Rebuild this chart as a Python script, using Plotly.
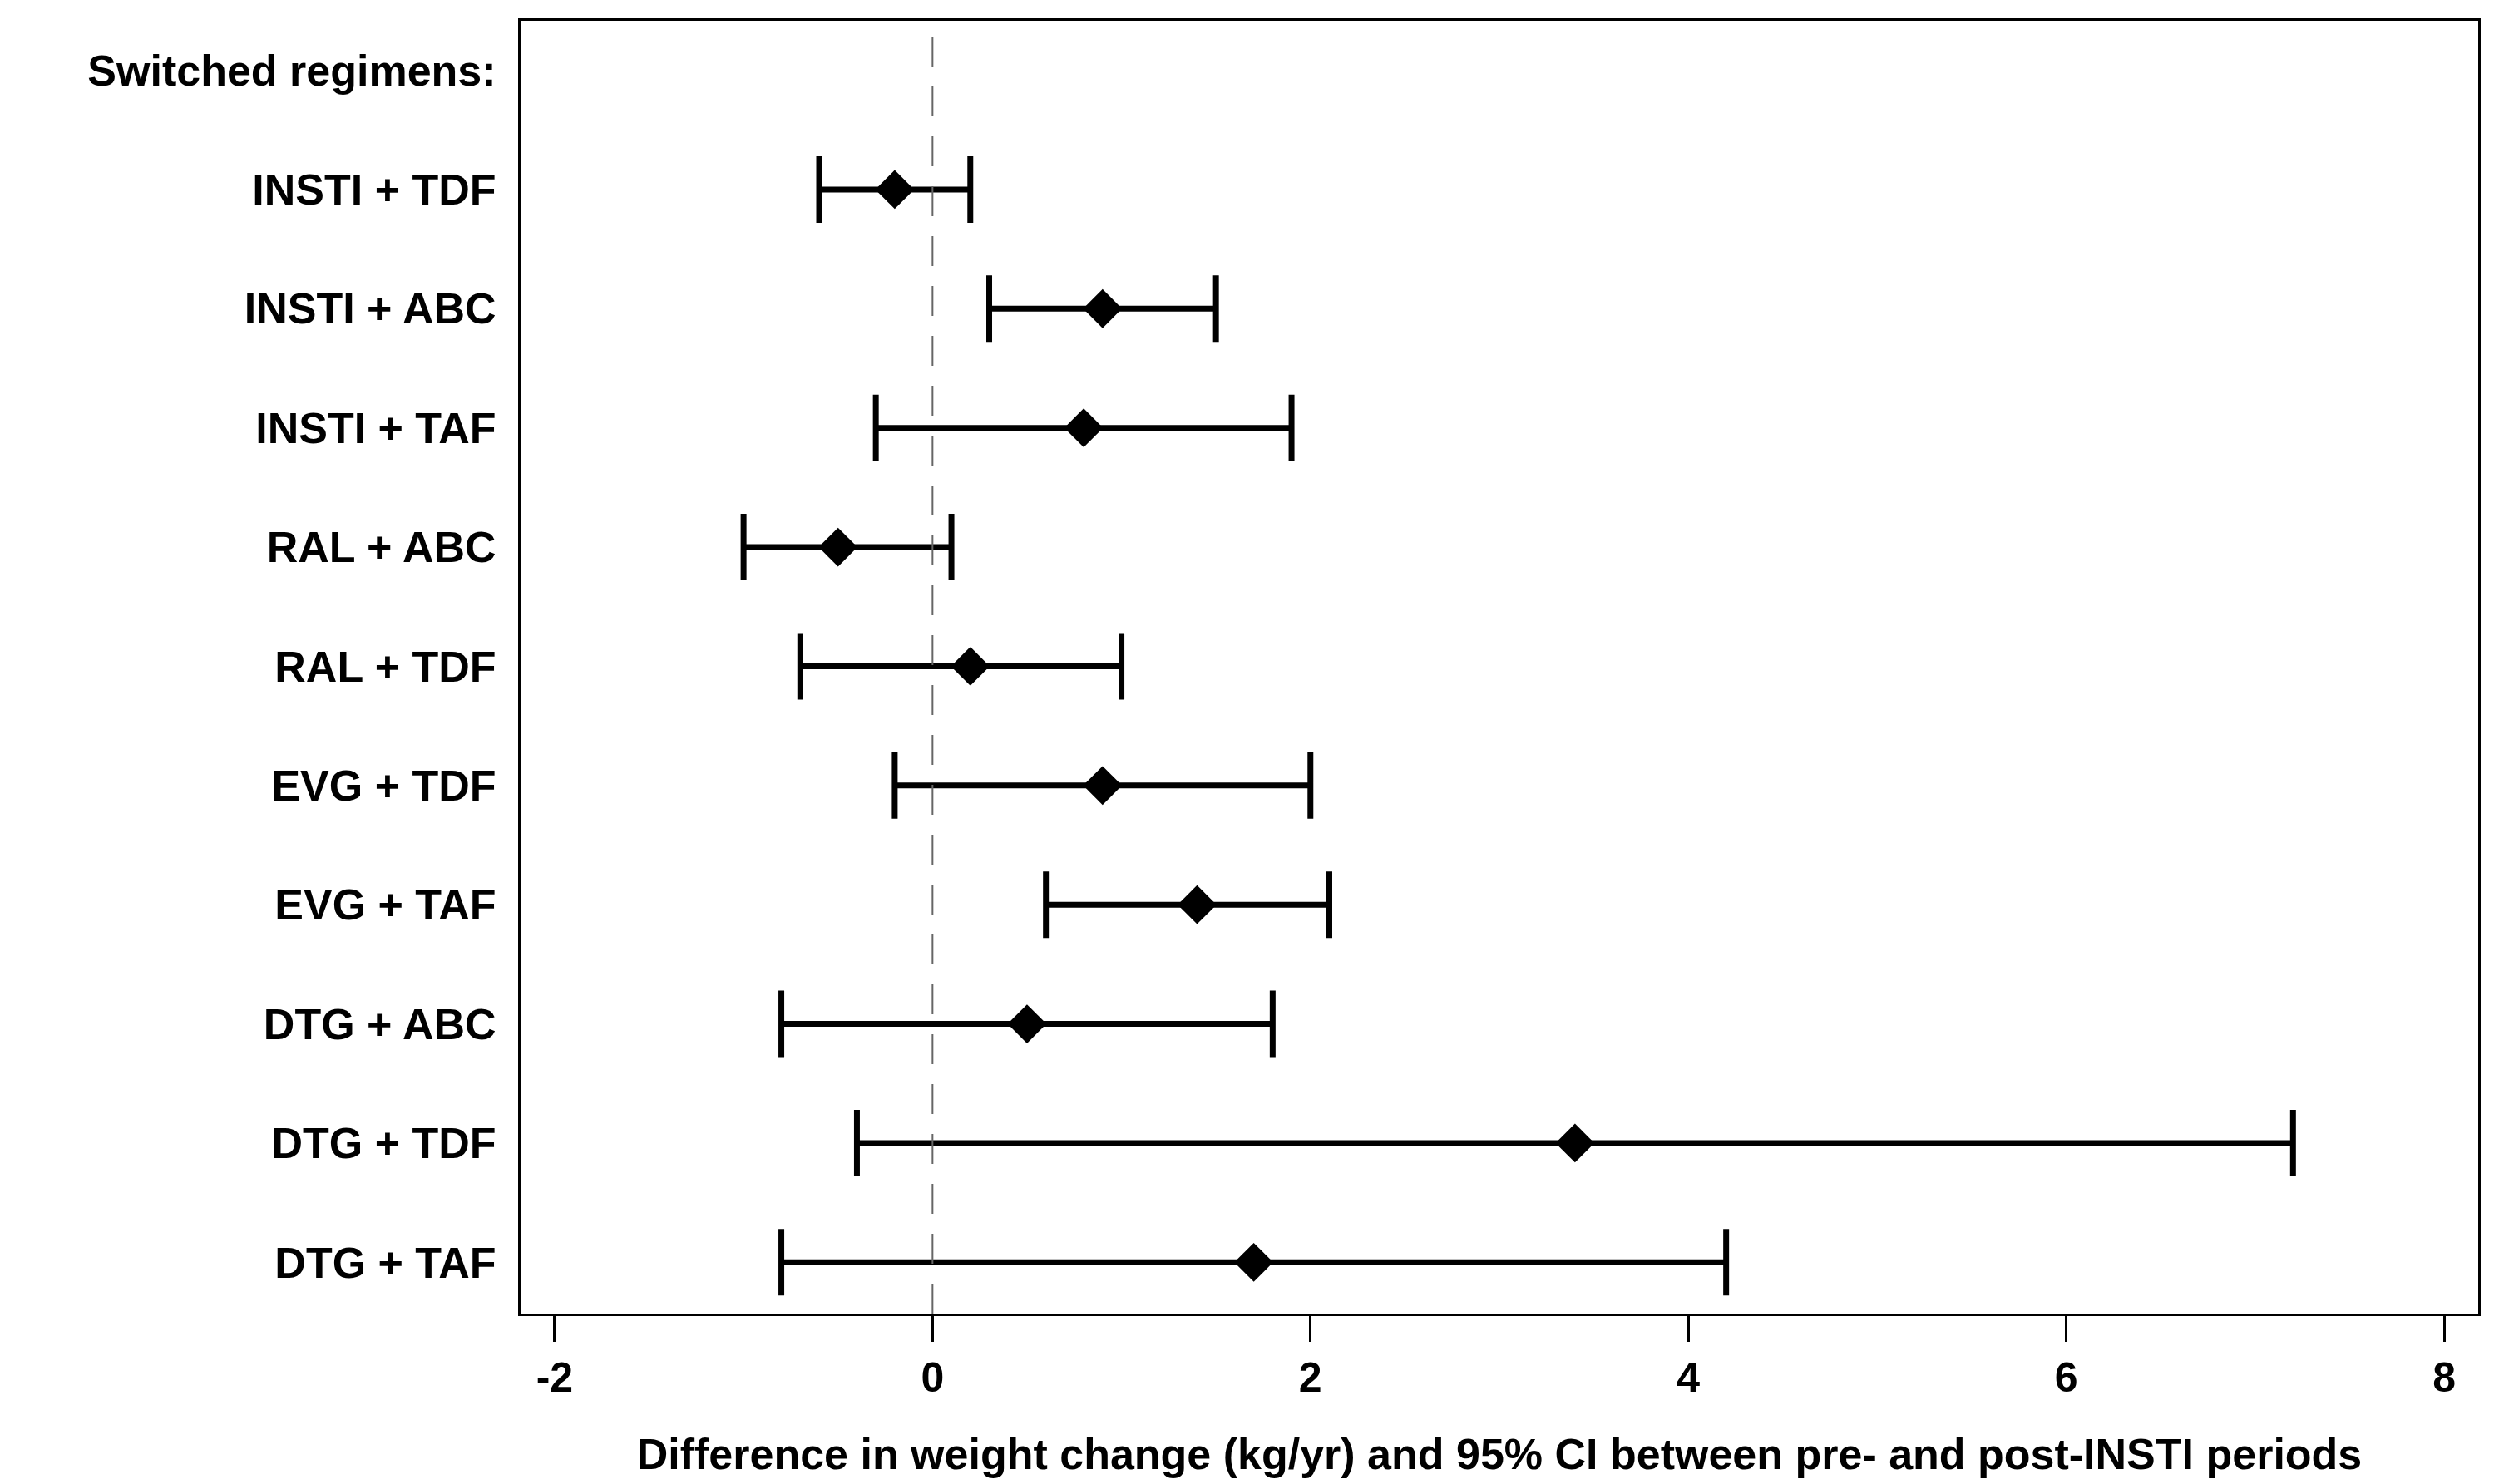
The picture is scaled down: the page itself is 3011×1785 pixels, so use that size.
import plotly.graph_objects as go

# Data
header = "Switched regimens:"
regimens = ["INSTI + TDF", "INSTI + ABC", "INSTI + TAF", "RAL + ABC", "RAL + TDF",
            "EVG + TDF", "EVG + TAF", "DTG + ABC", "DTG + TDF", "DTG + TAF"]
estimate = [-0.2, 0.9, 0.8, -0.5, 0.2, 0.9, 1.4, 0.5, 3.4, 1.7]
ci_low = [-0.6, 0.3, -0.3, -1.0, -0.7, -0.2, 0.6, -0.8, -0.4, -0.8]
ci_high = [0.2, 1.5, 1.9, 0.1, 1.0, 2.0, 2.1, 1.8, 7.2, 4.2]
x_ticks = [-2, 0, 2, 4, 6, 8]
x_title = "Difference in weight change (kg/yr) and 95% CI between pre- and post-INSTI periods"

FONT = "Liberation Sans, Arial, Helvetica, sans-serif"

err_plus = [h - e for h, e in zip(ci_high, estimate)]
err_minus = [e - l for e, l in zip(estimate, ci_low)]

categories = [header] + regimens

fig = go.Figure()
fig.add_trace(go.Scatter(
    x=estimate, y=regimens, mode="markers",
    marker=dict(symbol="diamond", size=36, color="black", line=dict(width=0)),
    error_x=dict(type="data", symmetric=False, array=err_plus, arrayminus=err_minus,
                 color="black", thickness=7, width=40),
    showlegend=False, hoverinfo="skip",
))

fig.add_shape(type="line", xref="x", yref="paper", x0=0, x1=0, y0=0, y1=1,
              line=dict(color="#666666", width=2, dash="36px,24px"), layer="above")

fig.update_layout(
    width=3011, height=1785,
    margin=dict(l=626, r=31, t=25, b=205),
    paper_bgcolor="white", plot_bgcolor="white",
    font=dict(family=FONT, color="black", size=52),
    xaxis=dict(
        range=[-2.18, 8.18], tickvals=x_ticks, ticktext=[str(t) for t in x_ticks],
        showgrid=False, zeroline=False,
        showline=True, linecolor="black", linewidth=3, mirror=True,
        ticks="outside", ticklen=31, tickwidth=3, tickcolor="black",
        tickfont=dict(family=FONT, size=50, color="black", weight="bold"),
        ticklabelstandoff=0,
        title=dict(text=x_title, font=dict(family=FONT, size=52, color="black", weight="bold"),
                   standoff=47),
    ),
    yaxis=dict(
        type="category", categoryorder="array", categoryarray=categories,
        range=[10.43, -0.415],
        showgrid=False, zeroline=False,
        showline=True, linecolor="black", linewidth=3, mirror=True,
        ticks="", ticklabelstandoff=16,
        tickfont=dict(family=FONT, size=52, color="black", weight="bold"),
    ),
)

fig.write_html("out.html", config={"displayModeBar": False},
               post_script="document.body.style.margin='0';")
